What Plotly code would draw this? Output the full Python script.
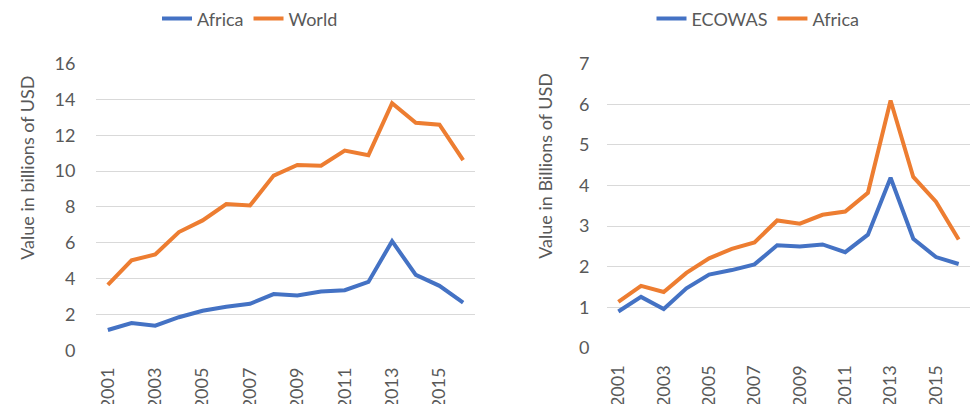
import plotly.graph_objects as go

years = [str(y) for y in range(2001, 2017)]
tick_years = [str(y) for y in range(2001, 2017, 2)]

# Left chart
africa = [1.14, 1.53, 1.38, 1.85, 2.21, 2.44, 2.60, 3.14, 3.06, 3.28, 3.36, 3.82, 6.09, 4.21, 3.60, 2.67]
world = [3.65, 5.02, 5.35, 6.60, 7.25, 8.16, 8.08, 9.75, 10.34, 10.30, 11.15, 10.89, 13.79, 12.70, 12.59, 10.61]
# Right chart
ecowas = [0.90, 1.26, 0.96, 1.47, 1.81, 1.92, 2.06, 2.53, 2.50, 2.55, 2.36, 2.79, 4.19, 2.69, 2.24, 2.07]

left_yticks = [0, 2, 4, 6, 8, 10, 12, 14, 16]
right_yticks = [0, 1, 2, 3, 4, 5, 6, 7]

BLUE = "#4472C4"
ORANGE = "#ED7D31"
GREY = "#595959"
GRID = "#D9D9D9"
FONT = "Lato, 'Open Sans', sans-serif"

fig = go.Figure()
fig.add_trace(go.Scatter(x=years, y=africa, name="Africa", mode="lines",
                         line=dict(color=BLUE, width=4), xaxis="x", yaxis="y", legend="legend"))
fig.add_trace(go.Scatter(x=years, y=world, name="World", mode="lines",
                         line=dict(color=ORANGE, width=4), xaxis="x", yaxis="y", legend="legend"))
fig.add_trace(go.Scatter(x=years, y=ecowas, name="ECOWAS", mode="lines",
                         line=dict(color=BLUE, width=4), xaxis="x2", yaxis="y2", legend="legend2"))
fig.add_trace(go.Scatter(x=years, y=africa, name="Africa", mode="lines",
                         line=dict(color=ORANGE, width=4), xaxis="x2", yaxis="y2", legend="legend2"))

xcommon = dict(type="category", range=[-0.5, 15.5], tickmode="array", tickvals=tick_years,
               ticktext=tick_years, tickangle=-90, showgrid=False, zeroline=False,
               showline=False, ticks="outside", ticklen=9, tickcolor="rgba(0,0,0,0)",
               tickfont=dict(family=FONT, size=18, color=GREY), automargin=False)
ycommon = dict(showgrid=True, gridcolor=GRID, gridwidth=1, zeroline=False, showline=False,
               ticks="outside", tickcolor="rgba(0,0,0,0)",
               tickfont=dict(family=FONT, size=18, color=GREY), automargin=False)

fig.update_layout(
    width=973, height=404, autosize=False,
    margin=dict(l=0, r=0, t=0, b=0),
    paper_bgcolor="white", plot_bgcolor="white",
    font=dict(family=FONT, color=GREY),
    xaxis=dict(domain=[96/973, 475/973], anchor="y", **xcommon),
    yaxis=dict(domain=[1-350/404, 1-61/404], anchor="x", range=[0, 16], tickvals=left_yticks,
               ticklen=16, **ycommon),
    xaxis2=dict(domain=[607/973, 970/973], anchor="y2", **xcommon),
    yaxis2=dict(domain=[1-347.7/404, 1-61/404], anchor="x2", range=[0, 7], tickvals=right_yticks,
                ticklen=13, **ycommon),
    legend=dict(orientation="h", x=250/973, xanchor="center", y=1-16/404, yanchor="middle",
                font=dict(family=FONT, size=18, color=GREY), bgcolor="rgba(0,0,0,0)"),
    legend2=dict(orientation="h", x=758/973, xanchor="center", y=1-16/404, yanchor="middle",
                 font=dict(family=FONT, size=18, color=GREY), bgcolor="rgba(0,0,0,0)"),
    annotations=[
        dict(text="Value in billions of USD", textangle=-90, x=27/973, y=1-166/404,
             xref="paper", yref="paper", showarrow=False, xanchor="center", yanchor="middle",
             font=dict(family=FONT, size=18, color=GREY)),
        dict(text="Value in Billions of USD", textangle=-90, x=545/973, y=1-164/404,
             xref="paper", yref="paper", showarrow=False, xanchor="center", yanchor="middle",
             font=dict(family=FONT, size=18, color=GREY)),
    ],
)

fig.write_html("out.html", config={"displayModeBar": False},
               post_script="document.body.style.margin='0';document.body.style.overflow='hidden';")
